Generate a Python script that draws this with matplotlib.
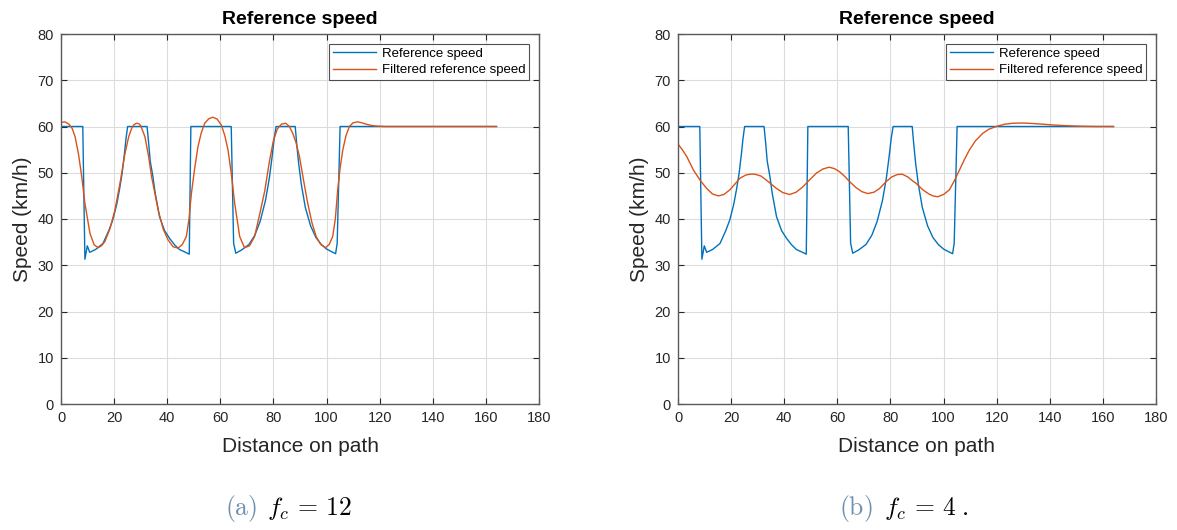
import matplotlib
matplotlib.use("Agg")
import matplotlib.pyplot as plt

plt.rcParams['font.family'] = ['Liberation Sans', 'DejaVu Sans']
plt.rcParams['mathtext.fontset'] = 'cm'

# ---------------- data ----------------
ref_dist = [0, 8.2, 9.0, 9.9, 10.8, 13.0, 15.8, 18.0, 19.5, 21.0, 22.0, 23.0, 23.9, 24.5, 25.1,
            32.4, 33.0, 33.6, 34.6, 35.5, 37.1, 39.0, 40.9, 42.8, 44.6, 46.5, 48.3, 48.9,
            64.1, 65.0, 65.8, 68.0, 70.8, 73.0, 75.0, 77.0, 78.5, 79.5, 80.3, 81.0,
            88.2, 88.8, 89.5, 90.5, 92.0, 94.0, 96.0, 98.0, 100.0, 102.0, 103.4, 104.0, 105.1, 164.0]
ref_speed = [60, 60, 31.3, 34.2, 32.8, 33.4, 34.7, 37.5, 39.8, 43.2, 46.3, 49.8, 54.2, 57.5, 60,
             60, 56.5, 52.5, 49.2, 45.5, 40.5, 37.5, 35.8, 34.4, 33.4, 32.9, 32.4, 60,
             60, 34.8, 32.6, 33.3, 34.5, 36.5, 39.5, 44.0, 49.0, 53.5, 57.5, 60,
             60, 56.0, 52.0, 47.5, 42.5, 38.5, 36.0, 34.5, 33.5, 32.9, 32.5, 34.7, 60, 60]

filt12_dist = [0, 1.5, 3.0, 4.2, 5.3, 6.6, 7.8, 9.0, 10.9, 12.5, 14.0, 15.2, 16.5, 18.5, 20.3, 22.3, 24.1,
               25.5, 26.6, 27.5, 28.4, 29.3, 30.0, 31.6, 33.0, 34.1, 36.6, 38.5, 40.3, 42.2, 44.1, 45.7,
               47.2, 48.2, 49.1, 50.3, 51.6, 52.8, 54.1, 55.7, 57.2, 58.8, 60.4, 61.7, 62.9,
               64.2, 65.4, 67.3, 69.1, 71.0, 72.9, 75.0, 76.7, 78.5, 80.0, 81.5, 83.0, 84.6,
               86.0, 87.3, 88.5, 89.8, 91.3, 92.9, 94.5, 96.1, 97.8, 99.6, 101.0, 102.3, 103.3,
               104.2, 105.1, 106.1, 107.3, 108.6, 110.0, 111.7, 113.3, 114.9, 116.7, 118.6,
               122.0, 164.0]
filt12_speed = [60.9, 61.0, 60.5, 59.6, 57.8, 54.0, 49.2, 43.4, 36.9, 34.4, 33.8, 34.2, 35.1, 38.0, 41.9, 48.0, 54.2,
                57.8, 59.6, 60.4, 60.7, 60.6, 60.2, 57.8, 53.5, 49.2, 41.9, 37.8, 35.5, 34.0, 33.7, 34.5,
                36.2, 40.0, 45.5, 50.8, 55.7, 58.6, 60.7, 61.7, 62.0, 61.6, 60.3, 58.0, 54.9,
                49.5, 43.4, 36.2, 33.8, 34.2, 36.2, 41.5, 46.0, 52.5, 57.0, 59.5, 60.5, 60.7,
                60.0, 58.5, 56.5, 53.5, 48.5, 43.4, 39.2, 36.2, 34.5, 33.8, 34.5, 36.2, 40.0,
                46.3, 51.0, 54.9, 58.0, 60.0, 60.8, 61.0, 60.8, 60.5, 60.25, 60.1,
                60.0, 60.0]

filt4_dist = [0, 1.6, 3.3, 5.8, 8.3, 10.8, 13.0, 15.2, 17.3, 19.5, 21.5, 23.3, 25.5, 27.2, 28.9,
              31.2, 33.3, 35.2, 37.1, 39.5, 42.1, 44.5, 47.1, 49.6, 52.1, 54.5, 56.9, 58.9,
              60.9, 62.8, 64.6, 67.0, 69.3, 71.5, 73.8, 75.9, 78.4, 80.5, 82.5, 84.4, 86.5,
              88.0, 89.7, 92.0, 94.5, 96.0, 97.8, 100.0, 102.2, 104.0, 106.0, 107.8, 109.7,
              112.0, 114.7, 117.0, 119.8, 123.0, 126.0, 129.8, 133.5, 137.3, 142.0, 147.3,
              152.0, 158.0, 164.0]
filt4_speed = [56.2, 55.0, 53.5, 50.6, 48.4, 46.6, 45.4, 45.0, 45.3, 46.3, 47.6, 48.8, 49.5, 49.7, 49.7,
               49.3, 48.4, 47.5, 46.6, 45.7, 45.3, 45.8, 47.0, 48.5, 49.9, 50.8, 51.2, 50.9,
               50.2, 49.2, 48.1, 46.8, 45.9, 45.5, 45.8, 46.6, 48.1, 49.1, 49.6, 49.7, 49.1,
               48.4, 47.7, 46.4, 45.4, 45.0, 44.8, 45.3, 46.3, 48.2, 50.6, 52.8, 54.9,
               56.9, 58.5, 59.4, 60.0, 60.5, 60.7, 60.75, 60.65, 60.5, 60.3, 60.15,
               60.05, 60.0, 60.0]

x_ticks = [0, 20, 40, 60, 80, 100, 120, 140, 160, 180]
y_ticks = [0, 10, 20, 30, 40, 50, 60, 70, 80]
title_text = "Reference speed"
xlabel_text = "Distance on path"
ylabel_text = "Speed (km/h)"
legend_labels = ["Reference speed", "Filtered reference speed"]

BLUE = "#0072BD"
ORANGE = "#D95319"
AX_COL = "#262626"

W, H = 1177, 530
fig = plt.figure(figsize=(W / 100, H / 100), dpi=100)

def make_axes(left_px, filt_d, filt_s):
    ax = fig.add_axes([left_px / W, (H - 404) / H, 478 / W, 370 / H])
    ax.plot(ref_dist, ref_speed, color=BLUE, lw=1.0, label=legend_labels[0])
    ax.plot(filt_d, filt_s, color=ORANGE, lw=1.0, label=legend_labels[1])
    ax.set_xlim(0, 180)
    ax.set_ylim(0, 80)
    ax.set_xticks(x_ticks)
    ax.set_yticks(y_ticks)
    ax.grid(True, color="#dcdcdc", lw=0.8)
    ax.set_axisbelow(True)
    ax.tick_params(direction="in", length=4, width=0.8, top=True, right=True,
                   labelsize=10.5, colors=AX_COL, pad=5)
    for sp in ax.spines.values():
        sp.set_color("#5a5a5a")
        sp.set_linewidth(1.0)
    ax.set_title(title_text, fontsize=14, fontweight="bold", color="black", pad=7)
    ax.set_xlabel(xlabel_text, fontsize=15, color=AX_COL, labelpad=9)
    ax.set_ylabel(ylabel_text, fontsize=15, color=AX_COL, labelpad=4)
    leg = ax.legend(loc="upper right", fontsize=9.5, handlelength=3.3, frameon=True,
                    fancybox=False, edgecolor="#262626", borderpad=0.3, labelspacing=0.3,
                    handletextpad=0.4, borderaxespad=0.75)
    leg.get_frame().set_linewidth(0.8)
    return ax

make_axes(61, filt12_dist, filt12_speed)
make_axes(678, filt4_dist, filt4_speed)

CAP_COL = "#6f8fae"
CAP_Y = 1 - 509 / H
fig.text(225 / W, CAP_Y, r"$\mathrm{(a)}$", fontsize=18.5, color=CAP_COL, va="center", ha="left")
fig.text(267 / W, CAP_Y, r"$f_c \,=\, 12$", fontsize=18.5, color="black", va="center", ha="left")
fig.text(839 / W, CAP_Y, r"$\mathrm{(b)}$", fontsize=18.5, color=CAP_COL, va="center", ha="left")
fig.text(884 / W, CAP_Y, r"$f_c \,=\, 4\;.$", fontsize=18.5, color="black", va="center", ha="left")

fig.savefig("out.png", dpi=100)
